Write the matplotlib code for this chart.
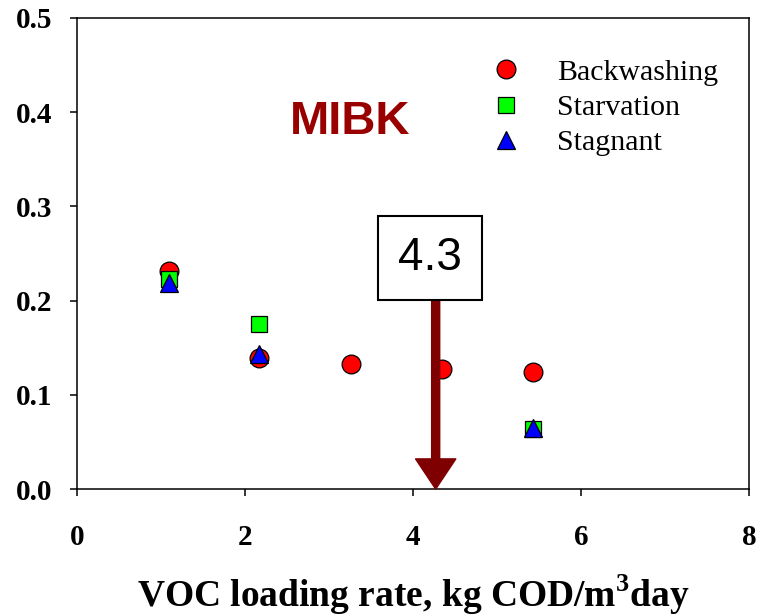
import matplotlib
matplotlib.use("Agg")
import matplotlib.pyplot as plt
from matplotlib.patches import ArrowStyle

# values
loading_backwash = [1.09, 2.17, 3.26, 4.35, 5.43]
ratio_backwash = [0.231, 0.139, 0.133, 0.127, 0.124]

loading_starve = [1.09, 2.17, 5.43]
ratio_starve = [0.223, 0.175, 0.064]

loading_stagnant = [1.09, 2.17, 5.43]
ratio_stagnant = [0.219, 0.143, 0.065]

x_ticks = [0, 2, 4, 6, 8]
y_ticks = [0.0, 0.1, 0.2, 0.3, 0.4, 0.5]
marked_rate = 4.27
marked_label = "4.3"

SERIF = "Liberation Serif"
SANS = "Liberation Sans"
DARK_RED = "#7f0000"

plt.rcParams["mathtext.fontset"] = "custom"
plt.rcParams["mathtext.rm"] = "Liberation Serif:bold"
plt.rcParams["mathtext.bf"] = "Liberation Serif:bold"

fig = plt.figure(figsize=(7.62, 6.16), dpi=100)
ax = fig.add_axes([0.101, 0.206, 0.882, 0.765])

ax.plot(loading_backwash, ratio_backwash, linestyle="none", marker="o",
        markersize=13.5, markerfacecolor="#ff0000", markeredgecolor="black",
        markeredgewidth=0.9, label="Backwashing", zorder=3)
ax.plot(loading_starve, ratio_starve, linestyle="none", marker="s",
        markersize=11.5, markerfacecolor="#00ff00", markeredgecolor="black",
        markeredgewidth=0.9, label="Starvation", zorder=4)
ax.plot(loading_stagnant, ratio_stagnant, linestyle="none", marker="^",
        markersize=13, markerfacecolor="#0000ff", markeredgecolor="black",
        markeredgewidth=0.9, label="Stagnant", zorder=5)

# arrow from the "4.3" box down to the axis
ax.annotate(
    "",
    xy=(marked_rate, 0.0),
    xytext=(marked_rate, 0.204),
    arrowprops=dict(
        arrowstyle=ArrowStyle.Simple(head_length=0.75, head_width=1.0, tail_width=0.2),
        mutation_scale=29,
        facecolor=DARK_RED,
        edgecolor=DARK_RED,
        shrinkA=0,
        shrinkB=0,
    ),
    zorder=6,
)
ax.text(4.2, 0.245, marked_label, family=SANS, fontsize=33, ha="center",
        va="center", zorder=7,
        bbox=dict(boxstyle="square,pad=0.44", facecolor="white",
                  edgecolor="black", linewidth=1.5))

ax.text(0.406, 0.78, "MIBK", transform=ax.transAxes, family=SANS,
        fontweight="bold", fontsize=34, color="#990000", ha="center", va="center")

ax.set_xlim(0, 8)
ax.set_ylim(0, 0.5)
ax.set_xticks(x_ticks)
ax.set_yticks(y_ticks)
ax.set_xticklabels([str(v) for v in x_ticks], family=SERIF, fontweight="bold", fontsize=21)
ax.set_yticklabels([f"{v:.1f}" for v in y_ticks], family=SERIF, fontweight="bold", fontsize=21)
ax.tick_params(direction="out", length=5, width=1.1, top=False, right=False)
ax.tick_params(axis="y", pad=13)
ax.tick_params(axis="x", pad=20)
for spine in ax.spines.values():
    spine.set_linewidth(1.1)

ax.set_xlabel("VOC loading rate, kg COD/m$^{3}$day", family=SERIF,
              fontweight="bold", fontsize=27, labelpad=16)

ax.legend(loc="upper right", bbox_to_anchor=(0.985, 0.957), frameon=False,
          prop={"family": SERIF, "size": 21.5}, handletextpad=1.1,
          labelspacing=0.28, borderaxespad=0.3, handlelength=1.2)

fig.savefig("out.png", dpi=100)
